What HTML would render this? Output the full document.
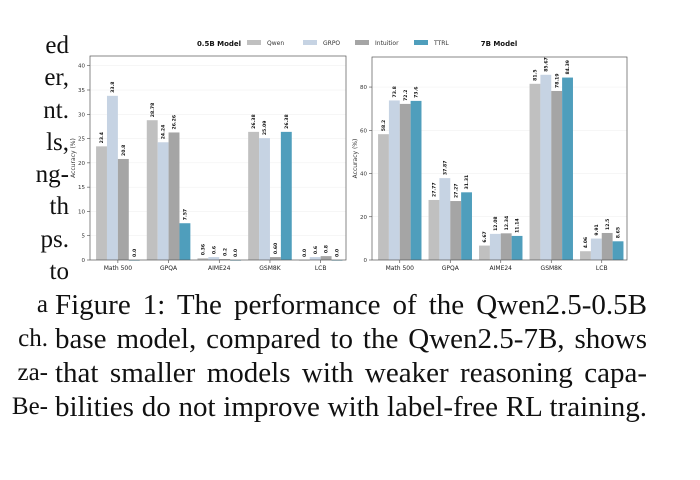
<!DOCTYPE html>
<html><head><meta charset="utf-8">
<style>
body{margin:0;width:700px;height:480px;background:#fff;overflow:hidden;position:relative;font-family:"Liberation Serif",serif;}
.leftcol{position:absolute;left:0;text-align:right;font-size:25px;color:#111;}
#left1{top:30px;width:69px;line-height:32.3px;}
#left2{top:288px;width:48px;line-height:34px;}
#cap{position:absolute;left:55px;top:288px;width:592px;font-size:29px;line-height:34px;color:#111;}
#cap div{text-align:justify;text-align-last:justify;white-space:nowrap;}
svg{position:absolute;left:0;top:0;}
</style></head><body>
<div id="left1" class="leftcol">ed<br>er,<br>nt.<br>ls,<br>ng-<br>th<br>ps.<br>to</div>
<div id="left2" class="leftcol">a<br>ch.<br>za-<br>Be-</div>
<div id="cap">
<div>Figure 1: The performance of the Qwen2.5-0.5B</div>
<div>base model, compared to the Qwen2.5-7B, shows</div>
<div>that smaller models with weaker reasoning capa-</div>
<div>bilities do not improve with label-free RL training.</div>
</div>
<svg id="chart" width="700" height="480"></svg>
<script>
const categories=["Math 500","GPQA","AIME24","GSM8K","LCB"];
const seriesNames=["Qwen","GRPO","Intuitior","TTRL"];
const colors=["#c0c0c0","#c6d3e3","#a5a5a5","#4f9ebc"];
const small_qwen=[23.4,28.78,0.36,26.38,0.0];
const small_grpo=[33.8,24.24,0.6,25.09,0.6];
const small_intu=[20.8,26.26,0.2,0.6,0.8];
const small_ttrl=[0.0,7.57,0.0,26.38,0.0];
const small_labels=[["23.4","28.78","0.36","26.38","0.0"],["33.8","24.24","0.6","25.09","0.6"],["20.8","26.26","0.2","0.60","0.8"],["0.0","7.57","0.0","26.38","0.0"]];
const big_qwen=[58.2,27.77,6.67,81.5,4.06];
const big_grpo=[73.8,37.87,12.08,85.67,9.91];
const big_intu=[72.2,27.27,12.34,78.19,12.5];
const big_ttrl=[73.6,31.31,11.14,84.39,8.65];
const big_labels=[["58.2","27.77","6.67","81.5","4.06"],["73.8","37.87","12.08","85.67","9.91"],["72.2","27.27","12.34","78.19","12.5"],["73.6","31.31","11.14","84.39","8.65"]];
const smallTicks=[0,5,10,15,20,25,30,35,40];
const bigTicks=[0,20,40,60,80];
const NS="http://www.w3.org/2000/svg";
const svg=document.getElementById('chart');
function mk(t,a,p){const e=document.createElementNS(NS,t);for(const k in a)e.setAttribute(k,a[k]);(p||svg).appendChild(e);return e;}
function panel(name,x0,x1,y0,y1,ymax,series,labels,ticks,title,titleX){
  const g=mk('g',{});
  
  
  const ys=v=>y1-(v/ymax)*(y1-y0);
  const n=categories.length;
  const step=(x1-x0)/(n+0.05);
  const xc=i=>x0+step*(i+0.55);
  const bw=step*0.215;
  ticks.forEach(t=>{
    const gl=mk('line',{x1:x0,x2:x1,y1:ys(t),y2:ys(t),stroke:'#eee','stroke-width':0.5},g);
    
    mk('line',{x1:x0-3,x2:x0,y1:ys(t),y2:ys(t),stroke:'#444','stroke-width':0.6},g);
    const tl=mk('text',{x:x0-5,y:ys(t)+2,'font-size':5.5,'text-anchor':'end',fill:'#333','font-family':'DejaVu Sans, sans-serif'},g);
    tl.textContent=t;
  });
  series.forEach((s,si)=>{
    s.forEach((v,i)=>{
      const x=xc(i)+(si-2)*bw;
      const r=mk('rect',{x:x,y:ys(v),width:bw,height:Math.max(y1-ys(v),v>0?0.8:0.6),fill:colors[si]},g);
      
      
      const lx=x+bw/2+1.6, ly=ys(v)-3;
      const t=mk('text',{x:lx,y:ly,'font-size':4.6,'font-weight':'bold','font-family':'DejaVu Sans, sans-serif',transform:`rotate(-90 ${lx} ${ly})`,fill:'#111'},g);
      t.textContent=labels[si][i];
      
      
    });
  });
  categories.forEach((c,i)=>{
    mk('line',{x1:xc(i),x2:xc(i),y1:y1,y2:y1+3,stroke:'#444','stroke-width':0.6},g);
    const t=mk('text',{x:xc(i),y:y1+10,'font-size':6,'text-anchor':'middle',fill:'#222','font-family':'DejaVu Sans, sans-serif'},g);
    t.textContent=c;
  });
  const fr=mk('rect',{x:x0,y:y0,width:x1-x0,height:y1-y0,fill:'none',stroke:'#555','stroke-width':0.7},g);
  
  const yl=x0-15, ym=(y0+y1)/2;
  const ya=mk('text',{x:yl,y:ym,'font-size':6,'text-anchor':'middle',fill:'#333','font-family':'DejaVu Sans, sans-serif',transform:`rotate(-90 ${yl} ${ym})`},g);
  ya.textContent='Accuracy (%)';
  const tt=mk('text',{x:titleX,y:46,'font-size':7,'font-weight':'bold','text-anchor':'middle',fill:'#111','font-family':'DejaVu Sans, sans-serif'},g);
  tt.textContent=title;
}
panel('small-model',90,346,56,260,42,[small_qwen,small_grpo,small_intu,small_ttrl],small_labels,smallTicks,'0.5B Model',219);
panel('big-model',372,627,57,260,93.9,[big_qwen,big_grpo,big_intu,big_ttrl],big_labels,bigTicks,'7B Model',499);
const lg=mk('g',{});


const lx=[247,303,355,414];
seriesNames.forEach((s,i)=>{
  const r=mk('rect',{x:lx[i],y:40,width:14,height:5,fill:colors[i]},lg);
  
  const t=mk('text',{x:lx[i]+20,y:45,'font-size':6,fill:'#333','font-family':'DejaVu Sans, sans-serif'},lg);
  t.textContent=s;
});
</script>
</body></html>
